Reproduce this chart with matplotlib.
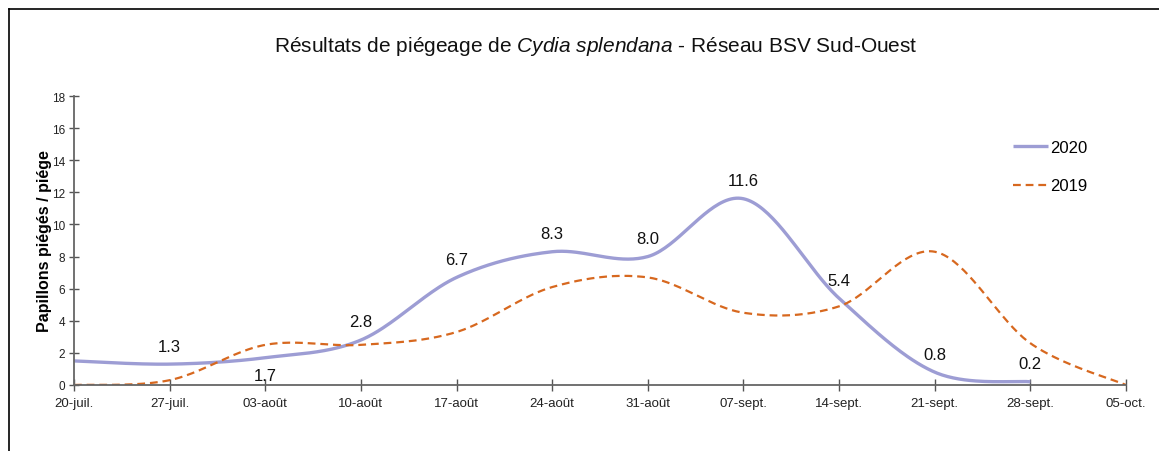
import numpy as np
import matplotlib
matplotlib.use("Agg")
import matplotlib.pyplot as plt
from matplotlib.lines import Line2D

plt.rcParams['font.family'] = ['Liberation Sans', 'DejaVu Sans']
plt.rcParams['mathtext.fontset'] = 'custom'
plt.rcParams['mathtext.rm'] = 'Liberation Sans'
plt.rcParams['mathtext.it'] = 'Liberation Sans:italic'

# semaines de relevé
semaines = ["20-juil.", "27-juil.", "03-août", "10-août", "17-août", "24-août",
            "31-août", "07-sept.", "14-sept.", "21-sept.", "28-sept.", "05-oct."]
# papillons piégés / piège
val_2020 = [1.5, 1.3, 1.7, 2.8, 6.7, 8.3, 8.0, 11.6, 5.4, 0.8, 0.2]
val_2019 = [0.0, 0.3, 2.5, 2.5, 3.3, 6.1, 6.7, 4.5, 4.9, 8.3, 2.6, 0.0]
# etiquettes 2020 : au-dessus (+1) ou en dessous (-1) du point
pos_etiq = [0, 1, -1, 1, 1, 1, 1, 1, 1, 1, 1]


def lissage_excel(x, y, n=40):
    # courbe lissée façon Excel (bezier, tension 1/6)
    P = np.column_stack([x, y]).astype(float)
    P = np.vstack([P[0], P, P[-1]])
    xs, ys = [], []
    t = np.linspace(0, 1, n)
    for i in range(1, len(P) - 2):
        p0, p3 = P[i], P[i + 1]
        p1 = p0 + (P[i + 1] - P[i - 1]) / 6
        p2 = p3 - (P[i + 2] - P[i]) / 6
        c = ((1 - t) ** 3)[:, None] * p0 + (3 * (1 - t) ** 2 * t)[:, None] * p1 \
            + (3 * (1 - t) * t ** 2)[:, None] * p2 + (t ** 3)[:, None] * p3
        xs.extend(c[:, 0]); ys.extend(c[:, 1])
    return np.array(xs), np.array(ys)


fig = plt.figure(figsize=(11.59, 4.52), dpi=100)
ax = fig.add_axes([74 / 1159, 66 / 452, 1052 / 1159, 289 / 452])

x20 = np.arange(len(val_2020))
x19 = np.arange(len(val_2019))
sx, sy = lissage_excel(x20, val_2020)
ax.plot(sx, sy, color="#9d9dd4", lw=2.4, solid_capstyle="butt", label="2020")
sx, sy = lissage_excel(x19, val_2019)
ax.plot(sx, sy, color="#d7681f", lw=1.6, dashes=(3.5, 2.2), label="2019")

for xi, v, p in zip(x20, val_2020, pos_etiq):
    if p == 0:
        continue
    ax.annotate(f"{v:.1f}", (xi, v), xytext=(0, 13 * p), textcoords="offset points",
                ha="center", va="center", fontsize=12, color="#111111")

ax.set_xlim(0, len(semaines) - 1)
ax.set_ylim(0, 18)
ax.set_xticks(np.arange(len(semaines)))
ax.set_xticklabels(semaines)
ax.set_yticks(np.arange(0, 19, 2))
ax.tick_params(axis="x", direction="inout", length=9, width=1, color="#555555",
               labelsize=9.5, labelcolor="#222222", pad=4)
ax.tick_params(axis="y", direction="inout", length=7, width=1, color="#555555",
               labelsize=8.5, labelcolor="#222222", pad=3)
for s in ["top", "right"]:
    ax.spines[s].set_visible(False)
for s in ["left", "bottom"]:
    ax.spines[s].set_color("#666666")
    ax.spines[s].set_linewidth(1.3)

ax.set_ylabel("Papillons piégés / piége", fontsize=11.5, fontweight="bold")
ax.yaxis.set_label_coords(-0.021, 0.5)

fig.text(0.514, 0.898, "Résultats de piégeage de $\\it{Cydia\\ splendana}$ - Réseau BSV Sud-Ouest",
         ha="center", va="center", fontsize=15, color="#111111")

ax.legend(loc="upper left", bbox_to_anchor=(998 / 1159, 326 / 452), bbox_transform=fig.transFigure,
          frameon=False, fontsize=12, handlelength=2.1, handletextpad=0.15, labelspacing=1.4)

# cadre du graphique
fig.add_artist(Line2D([9 / 1159, 9 / 1159], [0, 1 - 10 / 452], color="black", lw=1.2,
                      transform=fig.transFigure))
fig.add_artist(Line2D([9 / 1159, 1], [1 - 10 / 452, 1 - 10 / 452], color="black", lw=1.2,
                      transform=fig.transFigure))

fig.savefig("out.png", dpi=100)
